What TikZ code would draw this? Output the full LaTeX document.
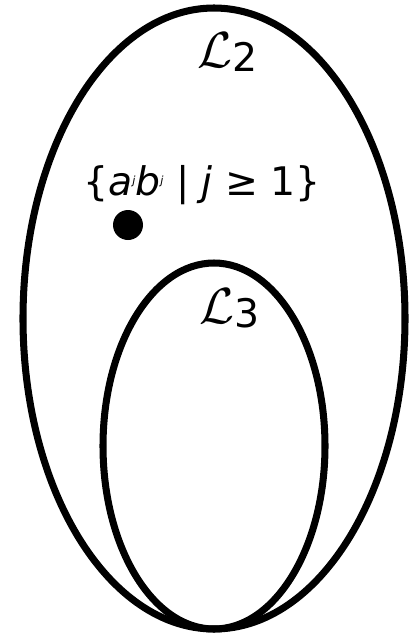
\documentclass[tikz,border=0pt]{standalone}
\usepackage{fontspec}
\setmainfont{DejaVu Sans}
\usetikzlibrary{positioning}
\newcommand{\classL}[1]{\scalebox{1.45}{$\mathcal{L}$}\raisebox{-0.2ex}{#1}}
\tikzset{
  setline/.style = {draw=black, line width=5pt},
  setlbl/.style  = {font=\fontsize{28}{33}\selectfont, inner sep=0pt, anchor=base},
  member/.style  = {circle, fill=black, inner sep=0pt, minimum size=30*0.025cm},
}
\begin{document}
\begin{tikzpicture}[x=0.025cm, y=-0.025cm]
\useasboundingbox (0,0) rectangle (418,638);

% the two classes of languages
\draw[setline] (214,318.5) ellipse [x radius=191, y radius=310.5];
\draw[setline] (214,446) ellipse [x radius=111, y radius=183];

% labels
\node[setlbl] (ltwo) at (228,67) {\classL{2}};
\node[setlbl] (lthree) at (230,323) {\classL{3}};
\node[setlbl] (lang) at (202,195)
  {\{\textit{a}\raisebox{0.5ex}{\footnotesize\textit{j}}\textit{b}\raisebox{0.5ex}{\footnotesize\textit{j}} | \textit{j} ≥ 1\}};

% the member language
\node[member] (pt) at (128,225) {};

\end{tikzpicture}
\end{document}
